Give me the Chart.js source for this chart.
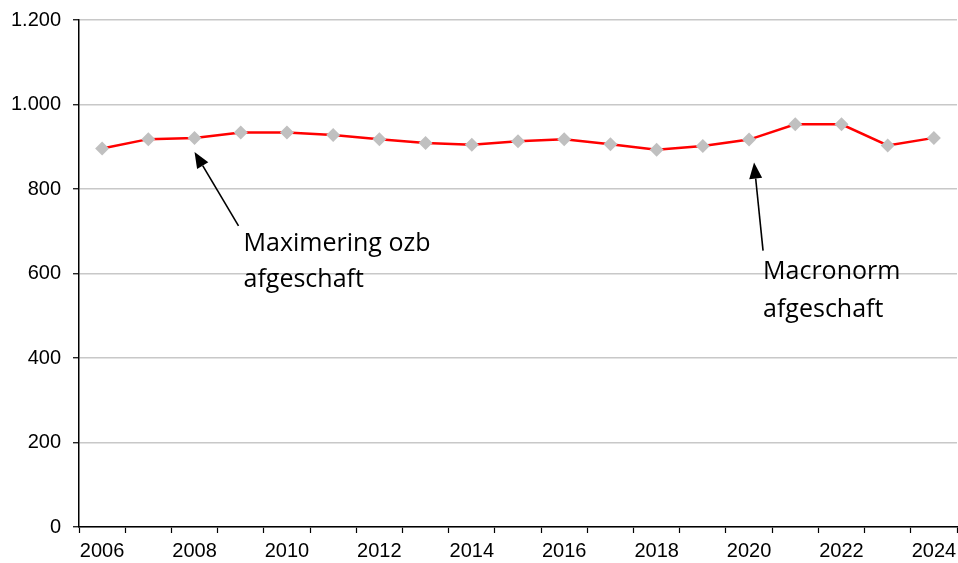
<!DOCTYPE html>
<html>
<head>
<meta charset="utf-8">
<script src="https://cdn.jsdelivr.net/npm/chart.js@4"></script>
<style>
html,body{margin:0;padding:0;background:#fff;}
#wrap{width:958px;height:563px;}
</style>
</head>
<body>
<div id="wrap"><canvas id="c" width="958" height="563"></canvas></div>
<script>
const years = ['2006','2007','2008','2009','2010','2011','2012','2013','2014','2015','2016','2017','2018','2019','2020','2021','2022','2023','2024'];
const values = [896, 918, 921, 934, 934, 928, 918, 909, 905, 913, 918, 906, 893, 902, 917, 953, 953, 903, 921];
const shownYears = ['2006','2008','2010','2012','2014','2016','2018','2020','2022','2024'];
const yTickLabels = ['0','200','400','600','800','1.000','1.200'];
const annotations = [
  {year:'2008', lines:['Maximering ozb','afgeschaft']},
  {year:'2020', lines:['Macronorm','afgeschaft']}
];
// annotation styling offsets (pixels relative to the data point)
const annoStyle = {
  '2008': {tip:[0,14], tail:[44,88], text:[49,113], lh:36},
  '2020': {tip:[5,23], tail:[14,111], text:[14,139], lh:38}
};

const annoPlugin = {
  id:'anno',
  afterDatasetsDraw(chart){
    const ctx = chart.ctx;
    const xs = chart.scales.x, ys = chart.scales.y;
    ctx.save();
    annotations.forEach(a=>{
      const i = years.indexOf(a.year);
      const px = xs.getPixelForValue(i);
      const py = ys.getPixelForValue(values[i]);
      const st = annoStyle[a.year];
      const tx = px+st.tip[0], ty = py+st.tip[1];
      const bx = px+st.tail[0], by = py+st.tail[1];
      const ang = Math.atan2(ty-by, tx-bx);
      const hl = 16, hw = 6.5;
      const hx = tx - Math.cos(ang)*hl, hy = ty - Math.sin(ang)*hl;
      ctx.strokeStyle='#000'; ctx.lineWidth=1.6;
      ctx.beginPath(); ctx.moveTo(bx,by); ctx.lineTo(hx,hy); ctx.stroke();
      ctx.fillStyle='#000';
      ctx.beginPath();
      ctx.moveTo(tx,ty);
      ctx.lineTo(hx + Math.sin(ang)*hw, hy - Math.cos(ang)*hw);
      ctx.lineTo(hx - Math.sin(ang)*hw, hy + Math.cos(ang)*hw);
      ctx.closePath(); ctx.fill();
      ctx.font = '25px "Open Sans"';
      ctx.textAlign='left'; ctx.textBaseline='alphabetic';
      a.lines.forEach((l,k)=>{
        ctx.fillText(l, px+st.text[0], py+st.text[1]+k*st.lh);
      });
    });
    ctx.restore();
  }
};

new Chart(document.getElementById('c'), {
  type:'line',
  data:{
    labels:years,
    datasets:[{
      data:values,
      borderColor:'#ff0000',
      borderWidth:2.5,
      pointStyle:'rectRot',
      pointRadius:7,
      pointBackgroundColor:'#c0c0c0',
      pointBorderColor:'#c0c0c0',
      pointBorderWidth:0,
      tension:0,
      fill:false
    }]
  },
  options:{
    responsive:false,
    animation:false,
    devicePixelRatio:1,
    layout:{autoPadding:false,padding:{top:20,right:1,left:0,bottom:0}},
    plugins:{legend:{display:false},tooltip:{enabled:false}},
    scales:{
      x:{
        type:'category',
        offset:true,
        grid:{offset:true,drawOnChartArea:false,drawTicks:true,tickLength:6,tickColor:'#000',tickWidth:1.2},
        border:{display:true,color:'#000',width:1.5},
        ticks:{
          autoSkip:false,maxRotation:0,padding:6,color:'#000',
          font:{family:'"Liberation Sans", Arial',size:20},
          callback:function(v,i){const y=years[i];return shownYears.includes(y)?y:'';}
        },
        afterFit(s){s.height=36;s.paddingLeft=0;s.paddingRight=0;}
      },
      y:{
        min:0,max:1200,
        grid:{color:'#c8c8c8',lineWidth:1.5,tickLength:6,tickColor:'#000',tickWidth:1.2},
        border:{display:true,color:'#000',width:1.5},
        ticks:{
          stepSize:200,padding:12,color:'#000',
          font:{family:'"Liberation Sans", Arial',size:20},
          callback:function(v,i){return yTickLabels[i];}
        },
        afterFit(s){s.width=79;s.paddingTop=0;s.paddingBottom=0;}
      }
    }
  },
  plugins:[annoPlugin]
});
</script>
</body>
</html>
